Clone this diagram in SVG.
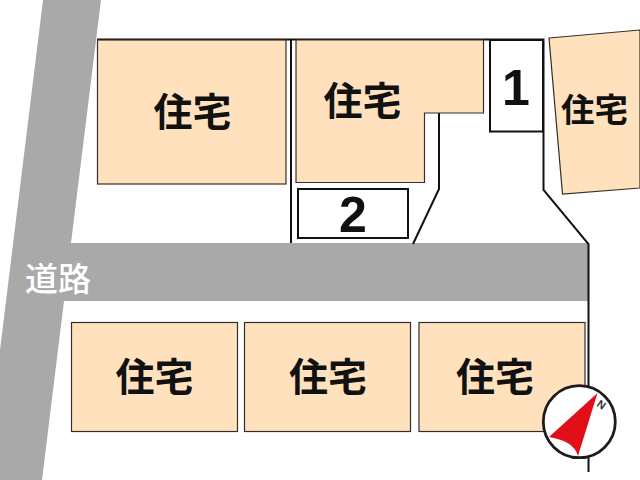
<svg xmlns="http://www.w3.org/2000/svg" width="640" height="480" viewBox="0 0 640 480">
<style>
.h{fill:#ffe2bd;stroke:#33302c;stroke-width:1.2}
.l{fill:none;stroke:#111;stroke-width:2}
.p{fill:#fff;stroke:#111;stroke-width:2}
text{font-family:"Noto Sans CJK JP","Liberation Sans",sans-serif;font-weight:700;fill:#111;text-anchor:middle}
.t{font-size:39px}
.n{font-family:"Liberation Sans",sans-serif;font-size:50px}
</style>
<rect width="640" height="480" fill="#fff"/>
<g id="road">
<path d="M43 0H101L71 243H589V301H64L42 480H0V350Z" fill="#a9a9a9"/>
<text x="58" y="291" style="font-size:33px;font-weight:500;fill:#fff">道路</text>
</g>
<g id="connectors">
<path class="l" d="M97 39.500H543.500V190L588.500 244V472"/>
<path class="l" d="M291 40V243"/>
<path class="l" d="M439 113V189L413 244"/>
</g>
<g id="house1"><rect class="h" x="97.500" y="40" width="188.500" height="144"/><text class="t" x="192.500" y="126">住宅</text></g>
<g id="house2"><path class="h" d="M296 40H483.500V113H424.500V182.500H296Z"/><text class="t" x="362.500" y="115">住宅</text></g>
<g id="house3"><path class="h" d="M549 38 640 30V188L562.500 194Z"/><text x="594.500" y="122" style="font-size:33.500px">住宅</text></g>
<g id="plot1"><rect class="p" x="490" y="40" width="53" height="91.500"/><text class="n" x="516" y="105">1</text></g>
<g id="plot2"><rect class="p" x="298" y="189" width="110" height="49"/><text class="n" x="353" y="232">2</text></g>
<g id="house4"><rect class="h" x="71.500" y="322.500" width="166" height="109"/><text class="t" x="154.500" y="391">住宅</text></g>
<g id="house5"><rect class="h" x="244.500" y="322.500" width="166" height="109"/><text class="t" x="328" y="391">住宅</text></g>
<g id="house6"><rect class="h" x="419" y="322.500" width="166" height="109"/><text class="t" x="495" y="391">住宅</text></g>
<g id="compass">
<circle cx="579.300" cy="421.700" r="36" fill="#fff" stroke="#1c1c1c" stroke-width="2.800"/>
<path d="M597.500 393L578 456Q574 441 549 437Z" fill="#e10f17"/>
<text x="601.700" y="408.500" transform="rotate(35 601.700 404.300)" style="font-family:'Liberation Sans',sans-serif;font-size:11px;fill:#333">N</text>
</g>
</svg>
